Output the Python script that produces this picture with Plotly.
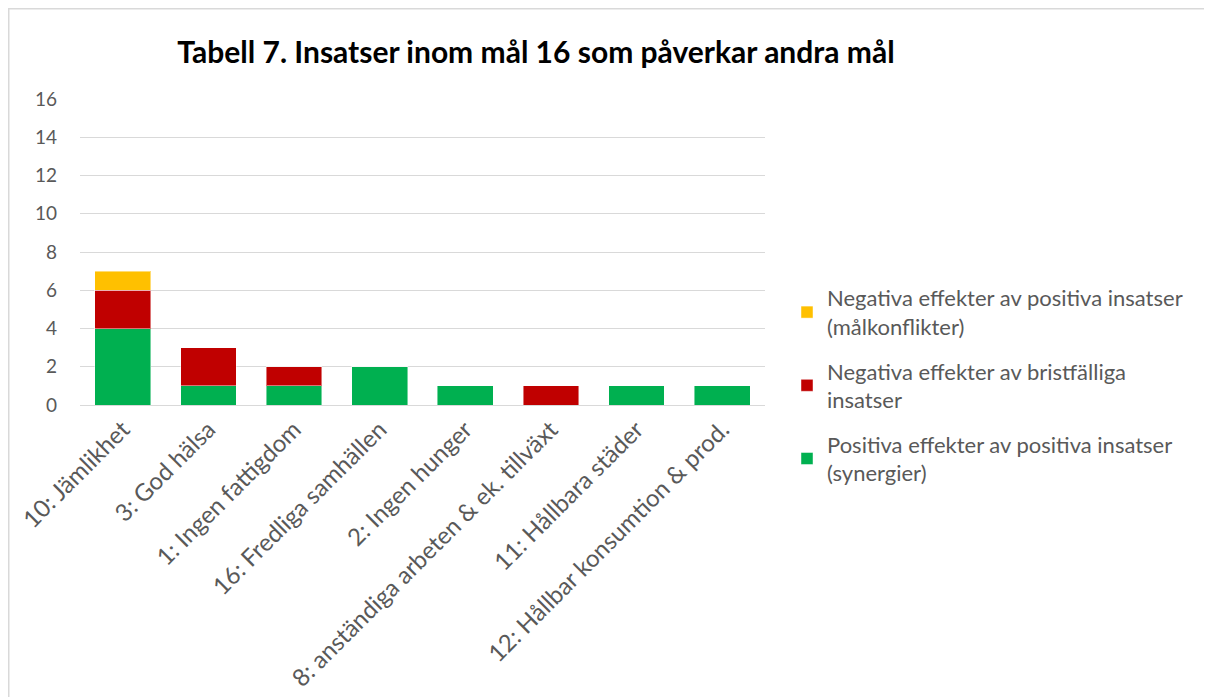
import plotly.graph_objects as go

categories = ["10: Jämlikhet", "3: God hälsa", "1: Ingen fattigdom", "16: Fredliga samhällen",
              "2: Ingen hunger", "8: anständiga arbeten & ek. tillväxt", "11: Hållbara städer",
              "12: Hållbar konsumtion & prod."]
positive_synergies = [4, 1, 1, 2, 1, 0, 1, 1]
negative_deficient = [2, 2, 1, 0, 0, 1, 0, 0]
negative_conflicts = [1, 0, 0, 0, 0, 0, 0, 0]
series_names = ["Positiva effekter av positiva insatser<br>(synergier)",
                "Negativa effekter av bristfälliga<br>insatser",
                "Negativa effekter av positiva insatser<br>(målkonflikter)"]
colors = ["#00B050", "#C00000", "#FFC000"]
y_ticks = [0, 2, 4, 6, 8, 10, 12, 14, 16]

FONT = "Lato"
OFF = 8  # browser body margin
W, H = 1212 - OFF, 697 - OFF
# target screen coordinates of the plot area
L, R, T, B = 80 - OFF, 765 - OFF, 99 - OFF, 405 - OFF

fig = go.Figure()
for i, (vals, name) in enumerate(zip([positive_synergies, negative_deficient, negative_conflicts], series_names)):
    fig.add_trace(go.Bar(
        x=categories, y=vals, name=name, legendgroup=f"g{2 - i}", legendrank=1000 - i,
        marker=dict(color=colors[i], line=dict(color="rgba(255,255,255,0.45)", width=1)),
    ))

def px_x(p):
    return (p - OFF - L) / (R - L)

def px_y(p):
    return (B - (p - OFF)) / (B - T)

shapes = [
    dict(type="line", xref="paper", yref="paper", x0=px_x(8), x1=px_x(1215), y0=px_y(8.5), y1=px_y(8.5),
         line=dict(color="#D9D9D9", width=2)),
    dict(type="line", xref="paper", yref="paper", x0=px_x(8.5), x1=px_x(8.5), y0=px_y(8), y1=px_y(700),
         line=dict(color="#D9D9D9", width=2)),
]

fig.update_layout(
    width=W, height=H,
    barmode="stack", bargap=0.35,
    margin=dict(l=L, r=W - R, t=T, b=H - B, autoexpand=False),
    paper_bgcolor="white", plot_bgcolor="white",
    font=dict(family=FONT, color="#595959", size=20),
    title=dict(text="<b>Tabell 7. Insatser inom mål 16 som påverkar andra mål</b>",
               x=(536 - OFF) / W, xanchor="center", y=1 - (52 - OFF) / H, yanchor="middle",
               font=dict(family=FONT, size=30, color="black")),
    xaxis=dict(tickangle=-45, showgrid=False, showline=True, linecolor="#D9D9D9", linewidth=1,
               ticks="", tickfont=dict(size=24, color="#595959"), automargin=False),
    yaxis=dict(range=[0, 16], tickvals=y_ticks, showgrid=True, gridcolor="#D9D9D9", gridwidth=1,
               zeroline=False, showline=False, ticks="", ticklabelstandoff=22,
               tickfont=dict(size=19, color="#595959"), automargin=False),
    legend=dict(x=px_x(787), xanchor="left", y=px_y(277), yanchor="top",
                traceorder="grouped", tracegroupgap=13, itemwidth=30,
                font=dict(size=22, color="#595959"), bgcolor="rgba(0,0,0,0)"),
    shapes=shapes,
    showlegend=True,
)

fig.write_html("out.html")
